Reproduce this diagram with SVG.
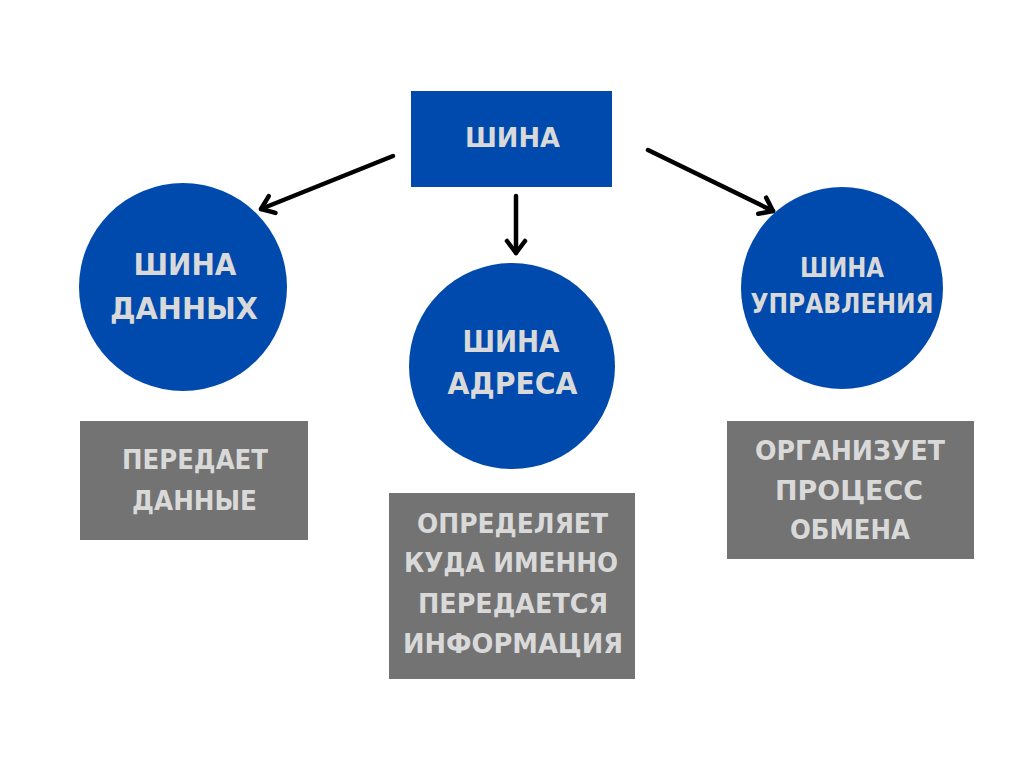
<svg xmlns="http://www.w3.org/2000/svg" width="1024" height="768" viewBox="0 0 1024 768">
<style>
.blue{fill:#004AAD}
.grey{fill:#737373}
.t{font-family:"DejaVu Sans","Liberation Sans",sans-serif;font-weight:bold;fill:#D9D9D9;text-anchor:middle}
.big{font-size:30px}
.mid{font-size:26px}
.sm{font-size:27px}
.conn{stroke:#000;stroke-width:4.5;stroke-linecap:round;fill:none}
</style>
<defs>
<marker id="ah" markerUnits="userSpaceOnUse" markerWidth="30" markerHeight="30" refX="15" refY="15" orient="auto">
<path d="M3,6 L15,15 L3,24" fill="none" stroke="#000" stroke-width="4.5" stroke-linecap="round" stroke-linejoin="round"/>
</marker>
</defs>
<rect width="1024" height="768" fill="#fff"/>
<g id="connectors">
<line class="conn" x1="393" y1="156" x2="261" y2="209" marker-end="url(#ah)"/>
<line class="conn" x1="516" y1="196" x2="516" y2="253" marker-end="url(#ah)"/>
<line class="conn" x1="648" y1="150" x2="773" y2="211" marker-end="url(#ah)"/>
</g>
<g id="bus">
<rect class="blue" x="411" y="91" width="201" height="96"/>
<text class="t" x="512.5" y="147" font-size="27" textLength="95" lengthAdjust="spacingAndGlyphs">ШИНА</text>
</g>
<g id="data-bus">
<circle class="blue" cx="183" cy="287" r="104"/>
<text class="t big" x="185" y="275" textLength="103" lengthAdjust="spacingAndGlyphs">ШИНА</text>
<text class="t big" x="184" y="319" textLength="148" lengthAdjust="spacingAndGlyphs">ДАННЫХ</text>
</g>
<g id="address-bus">
<circle class="blue" cx="512" cy="366" r="103"/>
<text class="t big" x="511" y="352" textLength="97" lengthAdjust="spacingAndGlyphs">ШИНА</text>
<text class="t big" x="512.5" y="394" textLength="130" lengthAdjust="spacingAndGlyphs">АДРЕСА</text>
</g>
<g id="control-bus">
<circle class="blue" cx="842" cy="288" r="101"/>
<text class="t mid" x="842" y="277" textLength="84" lengthAdjust="spacingAndGlyphs">ШИНА</text>
<text class="t mid" x="842" y="313" textLength="183" lengthAdjust="spacingAndGlyphs">УПРАВЛЕНИЯ</text>
</g>
<g id="data-desc">
<rect class="grey" x="80" y="421" width="228" height="119"/>
<text class="t sm" x="195" y="469" textLength="146" lengthAdjust="spacingAndGlyphs">ПЕРЕДАЕТ</text>
<text class="t sm" x="194.5" y="510" textLength="125" lengthAdjust="spacingAndGlyphs">ДАННЫЕ</text>
</g>
<g id="address-desc">
<rect class="grey" x="389" y="493" width="246" height="186"/>
<text class="t sm" x="512.5" y="533" textLength="191" lengthAdjust="spacingAndGlyphs">ОПРЕДЕЛЯЕТ</text>
<text class="t sm" x="511" y="572" textLength="214" lengthAdjust="spacingAndGlyphs">КУДА ИМЕННО</text>
<text class="t sm" x="513" y="613" textLength="190" lengthAdjust="spacingAndGlyphs">ПЕРЕДАЕТСЯ</text>
<text class="t sm" x="513" y="653" textLength="220" lengthAdjust="spacingAndGlyphs">ИНФОРМАЦИЯ</text>
</g>
<g id="control-desc">
<rect class="grey" x="727" y="421" width="247" height="138"/>
<text class="t sm" x="850" y="460" textLength="190" lengthAdjust="spacingAndGlyphs">ОРГАНИЗУЕТ</text>
<text class="t sm" x="849" y="500" textLength="148" lengthAdjust="spacingAndGlyphs">ПРОЦЕСС</text>
<text class="t sm" x="850" y="539" textLength="120" lengthAdjust="spacingAndGlyphs">ОБМЕНА</text>
</g>
</svg>
